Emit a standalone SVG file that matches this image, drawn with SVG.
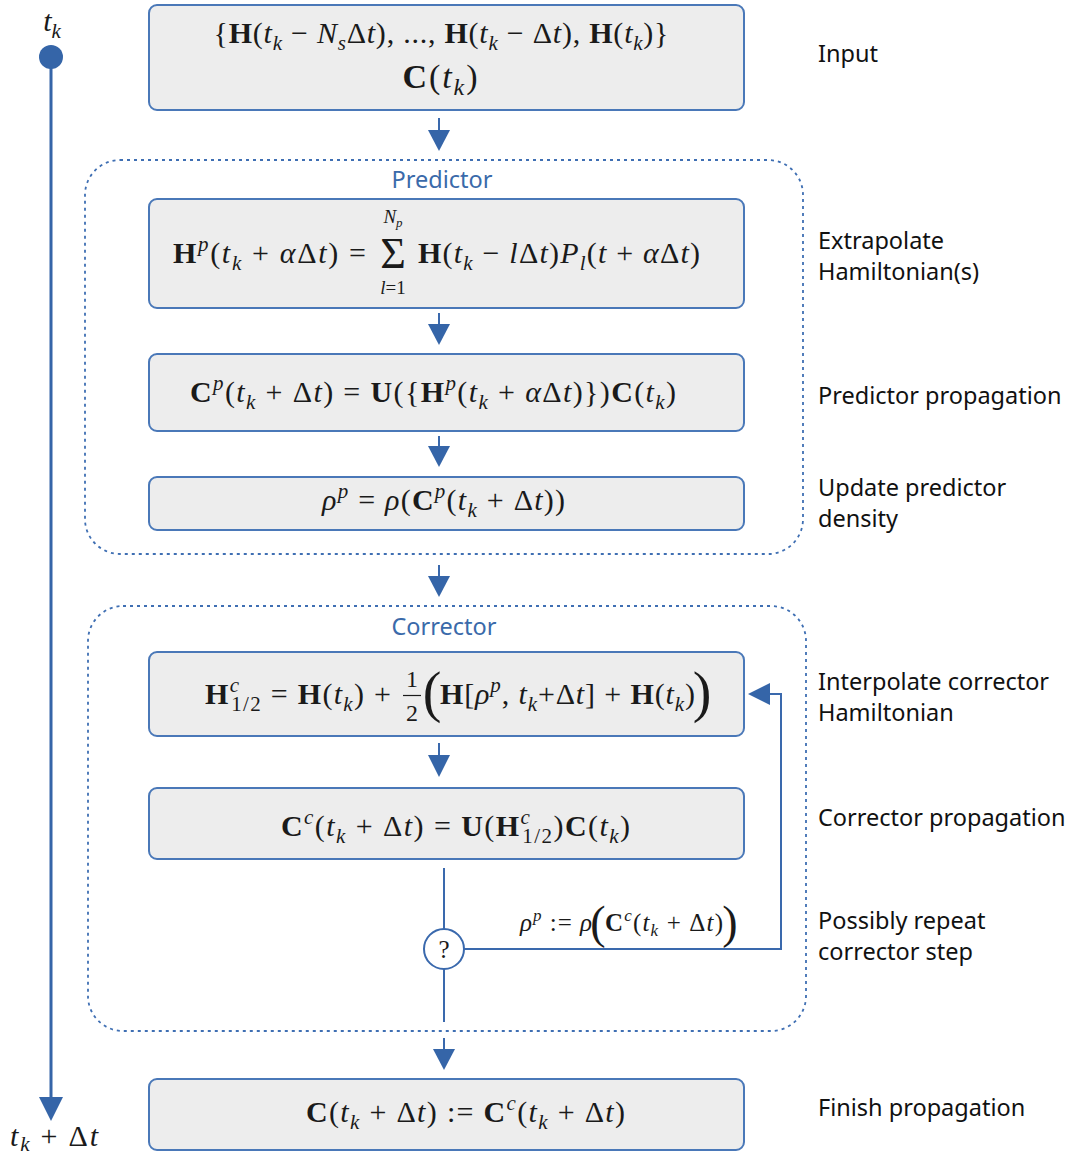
<svg xmlns="http://www.w3.org/2000/svg" width="1076" height="1158" viewBox="0 0 1076 1158">
<style>
.box{fill:#ededed;stroke:#4a78b8;stroke-width:2}
.grp{fill:none;stroke:#3f6fb3;stroke-width:1.8;stroke-dasharray:3 4}
.ln{stroke:#3a69ad;stroke-width:2;fill:none}
.hd{fill:#3565a8}
.m{font-family:"Liberation Serif","DejaVu Serif",serif;font-size:30px;fill:#1a1a1a}
.m2{font-family:"Liberation Serif","DejaVu Serif",serif;font-size:25px;fill:#1a1a1a}
.b{font-weight:bold}
.i{font-style:italic}
.s{font-size:21px}
.s2{font-size:17px}
.lb{font-family:"Noto Sans","DejaVu Sans",sans-serif;font-size:23.5px;fill:#111}
.gt{font-family:"Noto Sans","DejaVu Sans",sans-serif;font-size:23.5px;fill:#3a6aaa}
</style>
<rect width="1076" height="1158" fill="#fff"/>

<g id="timeline">
<line x1="51" y1="57" x2="51" y2="1100" stroke="#3565a8" stroke-width="3"/>
<circle cx="51" cy="57" r="12" class="hd"/>
<polygon points="39,1097 63,1097 51,1121" class="hd"/>
<text class="m" x="52" y="31" text-anchor="middle"><tspan class="i">t</tspan><tspan class="i s" dy="7">k</tspan></text>
<text class="m" x="10" y="1146" textLength="88"><tspan class="i">t</tspan><tspan class="i s" dy="5">k</tspan><tspan dy="-5"> + Δ</tspan><tspan class="i">t</tspan></text>
</g>

<g id="group-predictor">
<rect x="85" y="160" width="718" height="394" rx="35" class="grp"/>
<text class="gt" x="442" y="188" text-anchor="middle">Predictor</text>
</g>
<g id="group-corrector">
<rect x="88" y="606" width="718" height="425" rx="35" class="grp"/>
<text class="gt" x="444" y="635" text-anchor="middle">Corrector</text>
</g>

<g id="connectors">
<line x1="439" y1="118" x2="439" y2="131" class="ln"/>
<polygon points="428,130 450,130 439,151" class="hd"/>
<line x1="439" y1="313" x2="439" y2="325" class="ln"/>
<polygon points="428,324 450,324 439,345" class="hd"/>
<line x1="439" y1="436" x2="439" y2="447" class="ln"/>
<polygon points="428,446 450,446 439,467" class="hd"/>
<line x1="439" y1="565" x2="439" y2="577" class="ln"/>
<polygon points="428,576 450,576 439,597" class="hd"/>
<line x1="439" y1="743" x2="439" y2="756" class="ln"/>
<polygon points="428,755 450,755 439,777" class="hd"/>
<line x1="444" y1="868" x2="444" y2="929" class="ln"/>
<line x1="444" y1="969" x2="444" y2="1022" class="ln"/>
<line x1="444" y1="1038" x2="444" y2="1050" class="ln"/>
<polygon points="433,1049 455,1049 444,1070" class="hd"/>
<polyline points="464,949 781,949 781,694 769,694" class="ln"/>
<polygon points="770,683 770,705 748,694" class="hd"/>
<g id="feedback-label">
<text class="m2" x="520" y="931" textLength="72"><tspan class="i">ρ</tspan><tspan class="i s2" dy="-10">p</tspan><tspan dy="10"> := </tspan><tspan class="i">ρ</tspan></text>
<text class="m2" x="598" y="938" text-anchor="middle" style="font-size:46px">(</text>
<text class="m2" x="605" y="931" textLength="118"><tspan class="b">C</tspan><tspan class="i s2" dy="-10">c</tspan><tspan dy="10">(</tspan><tspan class="i">t</tspan><tspan class="i s2" dy="5">k</tspan><tspan dy="-5"> + Δ</tspan><tspan class="i">t</tspan>)</text>
<text class="m2" x="730" y="938" text-anchor="middle" style="font-size:46px">)</text>
</g>
</g>

<g id="node-input">
<rect x="149" y="5" width="595" height="105" rx="8" class="box"/>
<text class="m" x="441" y="43" text-anchor="middle" textLength="455">{<tspan class="b">H</tspan>(<tspan class="i">t</tspan><tspan class="i s" dy="7">k</tspan><tspan dy="-7"> − </tspan><tspan class="i">N</tspan><tspan class="i s" dy="7">s</tspan><tspan dy="-7">Δ</tspan><tspan class="i">t</tspan>), ..., <tspan class="b">H</tspan>(<tspan class="i">t</tspan><tspan class="i s" dy="7">k</tspan><tspan dy="-7"> − Δ</tspan><tspan class="i">t</tspan>), <tspan class="b">H</tspan>(<tspan class="i">t</tspan><tspan class="i s" dy="7">k</tspan><tspan dy="-7">)}</tspan></text>
<text class="m" x="440" y="88" text-anchor="middle" style="font-size:34px" textLength="75"><tspan class="b">C</tspan>(<tspan class="i">t</tspan><tspan class="i" style="font-size:24px" dy="7">k</tspan><tspan dy="-7">)</tspan></text>
</g>

<g id="node-extrapolate">
<rect x="149" y="199" width="595" height="109" rx="8" class="box"/>
<text class="m" x="173" y="263" textLength="193"><tspan class="b">H</tspan><tspan class="i s" dy="-12">p</tspan><tspan dy="12">(</tspan><tspan class="i">t</tspan><tspan class="i s" dy="7">k</tspan><tspan dy="-7"> + </tspan><tspan class="i">α</tspan>Δ<tspan class="i">t</tspan>) =</text>
<text class="m" x="393" y="268" text-anchor="middle" style="font-size:44px">Σ</text>
<text class="m" x="393" y="223" text-anchor="middle"><tspan class="i" style="font-size:19px">N</tspan><tspan class="i" style="font-size:13px" dy="4">p</tspan></text>
<text class="m" x="393" y="294" text-anchor="middle"><tspan class="i" style="font-size:19px">l</tspan><tspan style="font-size:19px">=1</tspan></text>
<text class="m" x="418" y="263" textLength="282"><tspan class="b">H</tspan>(<tspan class="i">t</tspan><tspan class="i s" dy="7">k</tspan><tspan dy="-7"> − </tspan><tspan class="i">l</tspan>Δ<tspan class="i">t</tspan>)<tspan class="i">P</tspan><tspan class="i s" dy="7">l</tspan><tspan dy="-7">(</tspan><tspan class="i">t</tspan> + <tspan class="i">α</tspan>Δ<tspan class="i">t</tspan>)</text>
</g>

<g id="node-predictor-propagation">
<rect x="149" y="354" width="595" height="77" rx="8" class="box"/>
<text class="m" x="190" y="402" textLength="486"><tspan class="b">C</tspan><tspan class="i s" dy="-12">p</tspan><tspan dy="12">(</tspan><tspan class="i">t</tspan><tspan class="i s" dy="7">k</tspan><tspan dy="-7"> + Δ</tspan><tspan class="i">t</tspan>) = <tspan class="b">U</tspan>({<tspan class="b">H</tspan><tspan class="i s" dy="-12">p</tspan><tspan dy="12">(</tspan><tspan class="i">t</tspan><tspan class="i s" dy="7">k</tspan><tspan dy="-7"> + </tspan><tspan class="i">α</tspan>Δ<tspan class="i">t</tspan>)})<tspan class="b">C</tspan>(<tspan class="i">t</tspan><tspan class="i s" dy="7">k</tspan><tspan dy="-7">)</tspan></text>
</g>

<g id="node-update-density">
<rect x="149" y="477" width="595" height="53" rx="8" class="box"/>
<text class="m" x="322" y="510" textLength="243"><tspan class="i">ρ</tspan><tspan class="i s" dy="-12">p</tspan><tspan dy="12"> = </tspan><tspan class="i">ρ</tspan>(<tspan class="b">C</tspan><tspan class="i s" dy="-12">p</tspan><tspan dy="12">(</tspan><tspan class="i">t</tspan><tspan class="i s" dy="7">k</tspan><tspan dy="-7"> + Δ</tspan><tspan class="i">t</tspan>))</text>
</g>

<g id="node-interpolate">
<rect x="149" y="652" width="595" height="84" rx="8" class="box"/>
<text class="m" x="205" y="704" textLength="186"><tspan class="b">H</tspan><tspan class="i s" dy="-12">c</tspan><tspan class="s" dx="-9" dy="19">1/2</tspan><tspan dy="-7"> = </tspan><tspan class="b">H</tspan>(<tspan class="i">t</tspan><tspan class="i s" dy="7">k</tspan><tspan dy="-7">) +</tspan></text>
<text class="m" x="412" y="687" text-anchor="middle" style="font-size:24px">1</text>
<line x1="403" y1="695.5" x2="421" y2="695.5" stroke="#1a1a1a" stroke-width="1.2"/>
<text class="m" x="412" y="721" text-anchor="middle" style="font-size:24px">2</text>
<text class="m" x="432" y="711" text-anchor="middle" style="font-size:56px">(</text>
<text class="m" x="440" y="704" textLength="255"><tspan class="b">H</tspan>[<tspan class="i">ρ</tspan><tspan class="i s" dy="-12">p</tspan><tspan dy="12">, </tspan><tspan class="i">t</tspan><tspan class="i s" dy="7">k</tspan><tspan dy="-7">+Δ</tspan><tspan class="i">t</tspan>] + <tspan class="b">H</tspan>(<tspan class="i">t</tspan><tspan class="i s" dy="7">k</tspan><tspan dy="-7">)</tspan></text>
<text class="m" x="702" y="711" text-anchor="middle" style="font-size:56px">)</text>
</g>

<g id="node-corrector-propagation">
<rect x="149" y="788" width="595" height="71" rx="8" class="box"/>
<text class="m" x="281" y="836" textLength="349"><tspan class="b">C</tspan><tspan class="i s" dy="-12">c</tspan><tspan dy="12">(</tspan><tspan class="i">t</tspan><tspan class="i s" dy="7">k</tspan><tspan dy="-7"> + Δ</tspan><tspan class="i">t</tspan>) = <tspan class="b">U</tspan>(<tspan class="b">H</tspan><tspan class="i s" dy="-12">c</tspan><tspan class="s" dx="-9" dy="19">1/2</tspan><tspan dy="-7">)</tspan><tspan class="b">C</tspan>(<tspan class="i">t</tspan><tspan class="i s" dy="7">k</tspan><tspan dy="-7">)</tspan></text>
</g>

<g id="node-decision">
<circle cx="444" cy="949" r="20" fill="#fff" stroke="#3a69ad" stroke-width="2"/>
<text class="m" x="444" y="958" text-anchor="middle" style="font-size:25px">?</text>
</g>

<g id="node-finish">
<rect x="149" y="1079" width="595" height="71" rx="8" class="box"/>
<text class="m" x="306" y="1122" textLength="319"><tspan class="b">C</tspan>(<tspan class="i">t</tspan><tspan class="i s" dy="7">k</tspan><tspan dy="-7"> + Δ</tspan><tspan class="i">t</tspan>) := <tspan class="b">C</tspan><tspan class="i s" dy="-12">c</tspan><tspan dy="12">(</tspan><tspan class="i">t</tspan><tspan class="i s" dy="7">k</tspan><tspan dy="-7"> + Δ</tspan><tspan class="i">t</tspan>)</text>
</g>

<g id="labels">
<text class="lb" x="818" y="62">Input</text>
<text class="lb" x="818" y="249">Extrapolate</text>
<text class="lb" x="818" y="280">Hamiltonian(s)</text>
<text class="lb" x="818" y="404">Predictor propagation</text>
<text class="lb" x="818" y="496">Update predictor</text>
<text class="lb" x="818" y="527">density</text>
<text class="lb" x="818" y="690">Interpolate corrector</text>
<text class="lb" x="818" y="721">Hamiltonian</text>
<text class="lb" x="818" y="826">Corrector propagation</text>
<text class="lb" x="818" y="929">Possibly repeat</text>
<text class="lb" x="818" y="960">corrector step</text>
<text class="lb" x="818" y="1116">Finish propagation</text>
</g>
</svg>
